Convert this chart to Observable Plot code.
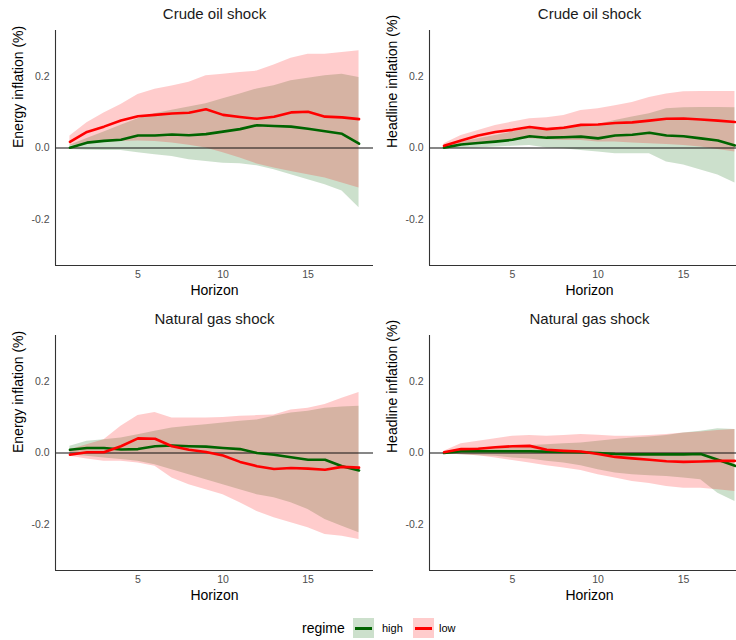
<!DOCTYPE html>
<html>
<head>
<meta charset="utf-8">
<script src="https://cdn.jsdelivr.net/npm/d3@7"></script>
<script src="https://cdn.jsdelivr.net/npm/@observablehq/plot@0.6"></script>
<style>
  body { margin: 0; background: #fff; font-family: "Liberation Sans", Arial, sans-serif; }
  #wrap { position: relative; width: 736px; height: 640px; overflow: hidden; }
  .panel { position: absolute; }
  .lg { position: absolute; line-height: 1; color: #000; }
  .sw { position: absolute; width: 21px; height: 20px; }
  .sw i { position: absolute; left: 2px; right: 2px; top: 9px; height: 3px; }
</style>
</head>
<body>
<div id="wrap"></div>
<script>
// ---- data ----
const horizon = [1,2,3,4,5,6,7,8,9,10,11,12,13,14,15,16,17,18];
const regimes = ["high", "low"];
const regimeColors = ["darkgreen", "red"];
const xTicks = [5, 10, 15];
const yTicks = [-0.2, 0.0, 0.2];
const xDomain = [0.15, 18.85];
const yDomain = [-0.33, 0.33];

// Crude oil shock -> Energy inflation
const oilEnergyHighMean = [0.001,0.015,0.020,0.023,0.035,0.035,0.038,0.036,0.039,0.046,0.053,0.064,0.062,0.060,0.054,0.047,0.040,0.012];
const oilEnergyHighLo   = [-0.004,-0.006,-0.007,-0.007,-0.013,-0.019,-0.024,-0.033,-0.038,-0.043,-0.044,-0.050,-0.061,-0.075,-0.089,-0.103,-0.121,-0.168];
const oilEnergyHighHi   = [0.008,0.027,0.045,0.064,0.082,0.096,0.106,0.115,0.124,0.138,0.152,0.166,0.175,0.189,0.196,0.203,0.207,0.198];
const oilEnergyLowMean  = [0.017,0.045,0.060,0.077,0.089,0.093,0.097,0.099,0.109,0.093,0.087,0.082,0.088,0.100,0.102,0.088,0.086,0.081];
const oilEnergyLowLo    = [0.006,0.012,0.016,0.018,0.020,0.018,0.014,0.008,0.000,-0.013,-0.028,-0.045,-0.056,-0.066,-0.075,-0.084,-0.098,-0.112];
const oilEnergyLowHi    = [0.034,0.071,0.098,0.122,0.150,0.165,0.174,0.185,0.203,0.207,0.212,0.216,0.233,0.252,0.263,0.263,0.268,0.273];

// Crude oil shock -> Headline inflation
const oilHeadHighMean = [0.001,0.010,0.014,0.018,0.023,0.033,0.029,0.030,0.032,0.027,0.035,0.037,0.043,0.035,0.033,0.027,0.021,0.007];
const oilHeadHighLo   = [-0.002,-0.001,0.000,0.003,0.005,0.007,0.000,-0.002,-0.007,-0.011,-0.016,-0.016,-0.016,-0.039,-0.048,-0.062,-0.076,-0.098];
const oilHeadHighHi   = [0.003,0.017,0.026,0.035,0.045,0.054,0.054,0.059,0.063,0.066,0.077,0.087,0.096,0.110,0.113,0.114,0.114,0.113];
const oilHeadLowMean  = [0.006,0.021,0.035,0.045,0.051,0.059,0.053,0.057,0.065,0.066,0.070,0.072,0.077,0.082,0.083,0.080,0.077,0.073];
const oilHeadLowLo    = [0.000,0.007,0.014,0.017,0.021,0.026,0.023,0.021,0.021,0.017,0.017,0.014,0.012,0.010,0.007,0.003,-0.004,-0.011];
const oilHeadLowHi    = [0.012,0.035,0.049,0.063,0.073,0.082,0.085,0.091,0.105,0.110,0.119,0.128,0.142,0.152,0.158,0.159,0.159,0.159];

// Natural gas shock -> Energy inflation
const gasEnergyHighMean = [0.009,0.014,0.014,0.010,0.011,0.019,0.021,0.019,0.018,0.014,0.011,0.000,-0.005,-0.012,-0.019,-0.019,-0.037,-0.049];
const gasEnergyHighLo   = [-0.005,-0.009,-0.014,-0.018,-0.023,-0.033,-0.047,-0.061,-0.075,-0.089,-0.103,-0.117,-0.126,-0.140,-0.159,-0.187,-0.206,-0.224];
const gasEnergyHighHi   = [0.019,0.033,0.037,0.042,0.051,0.061,0.070,0.075,0.079,0.084,0.089,0.093,0.103,0.112,0.117,0.126,0.129,0.131];
const gasEnergyLowMean  = [-0.005,0.002,0.002,0.019,0.041,0.040,0.019,0.009,0.003,-0.007,-0.025,-0.037,-0.045,-0.042,-0.044,-0.047,-0.039,-0.041];
const gasEnergyLowLo    = [-0.009,-0.017,-0.023,-0.023,-0.028,-0.037,-0.070,-0.089,-0.103,-0.117,-0.140,-0.164,-0.182,-0.196,-0.210,-0.229,-0.234,-0.243];
const gasEnergyLowHi    = [0.009,0.023,0.037,0.075,0.105,0.114,0.098,0.098,0.098,0.100,0.103,0.105,0.107,0.121,0.126,0.136,0.154,0.170];

// Natural gas shock -> Headline inflation
const gasHeadHighMean = [0.000,0.005,0.005,0.005,0.005,0.005,0.004,0.003,0.002,0.000,-0.003,-0.004,-0.004,-0.004,-0.004,-0.003,-0.019,-0.036];
const gasHeadHighLo   = [-0.002,-0.005,-0.008,-0.009,-0.014,-0.017,-0.023,-0.028,-0.036,-0.047,-0.056,-0.061,-0.064,-0.066,-0.070,-0.075,-0.113,-0.136];
const gasHeadHighHi   = [0.002,0.011,0.014,0.017,0.019,0.021,0.023,0.026,0.028,0.033,0.038,0.042,0.045,0.049,0.056,0.061,0.068,0.066];
const gasHeadLowMean  = [0.002,0.011,0.012,0.016,0.019,0.020,0.009,0.006,0.004,-0.003,-0.011,-0.015,-0.019,-0.023,-0.025,-0.024,-0.022,-0.022];
const gasHeadLowLo    = [-0.002,-0.005,-0.008,-0.014,-0.021,-0.028,-0.036,-0.042,-0.049,-0.061,-0.070,-0.080,-0.086,-0.094,-0.099,-0.099,-0.103,-0.108];
const gasHeadLowHi    = [0.005,0.026,0.033,0.040,0.047,0.049,0.047,0.049,0.052,0.050,0.047,0.047,0.049,0.052,0.056,0.059,0.063,0.066];

const panelTitles = ["Crude oil shock", "Crude oil shock", "Natural gas shock", "Natural gas shock"];
const yLabels = ["Energy inflation (%)", "Headline inflation (%)", "Energy inflation (%)", "Headline inflation (%)"];
const xLabel = "Horizon";
const legendTitle = "regime";

// ---- build ----
function rowsOf(series) {
  const out = [];
  regimes.forEach((r, i) => {
    const [m, lo, hi] = series[i];
    horizon.forEach((h, j) => out.push({h, regime: r, mean: m[j], lo: lo[j], hi: hi[j]}));
  });
  return out;
}

const panels = [
  rowsOf([[oilEnergyHighMean, oilEnergyHighLo, oilEnergyHighHi], [oilEnergyLowMean, oilEnergyLowLo, oilEnergyLowHi]]),
  rowsOf([[oilHeadHighMean, oilHeadHighLo, oilHeadHighHi], [oilHeadLowMean, oilHeadLowLo, oilHeadLowHi]]),
  rowsOf([[gasEnergyHighMean, gasEnergyHighLo, gasEnergyHighHi], [gasEnergyLowMean, gasEnergyLowLo, gasEnergyLowHi]]),
  rowsOf([[gasHeadHighMean, gasHeadHighLo, gasHeadHighHi], [gasHeadLowMean, gasHeadLowLo, gasHeadLowHi]])
];

const layout = [
  {left: 0, top: 0, width: 373},
  {left: 374, top: 0, width: 375},
  {left: 0, top: 305, width: 373},
  {left: 374, top: 305, width: 375}
];

const font = "'Liberation Sans', Arial, sans-serif";
const wrap = document.getElementById("wrap");

panels.forEach((rows, i) => {
  const L = layout[i];
  const chart = Plot.plot({
    width: L.width,
    height: 300,
    marginLeft: 55,
    marginRight: 0,
    marginTop: 30,
    marginBottom: 35,
    style: {fontFamily: font, background: "transparent", overflow: "visible"},
    x: {domain: xDomain},
    y: {domain: yDomain},
    color: {domain: regimes, range: regimeColors},
    marks: [
      Plot.areaY(rows, {x: "h", y1: "lo", y2: "hi", z: "regime", fill: "regime", fillOpacity: 0.2}),
      Plot.ruleY([0], {stroke: "#111", strokeWidth: 1.1}),
      Plot.lineY(rows, {x: "h", y: "mean", z: "regime", stroke: "regime", strokeWidth: 2.6}),
      Plot.ruleX([xDomain[0]], {stroke: "#333", strokeWidth: 1.1}),
      Plot.ruleY([yDomain[0]], {stroke: "#333", strokeWidth: 1.1}),
      Plot.axisX({ticks: xTicks, tickSize: 0, tickPadding: 5, fontSize: 10.5, color: "#4d4d4d", label: null}),
      Plot.axisY({ticks: yTicks, tickSize: 0, tickPadding: 6, fontSize: 10.5, color: "#4d4d4d", tickFormat: d => d.toFixed(1), label: null}),
      Plot.text([panelTitles[i]], {frameAnchor: "top", dy: -16, fontSize: 15, fill: "#1a1a1a", lineAnchor: "middle"}),
      Plot.text([xLabel], {frameAnchor: "bottom", dy: 25, fontSize: 14, fill: "#000", lineAnchor: "middle"}),
      Plot.text([yLabels[i]], {frameAnchor: "left", dx: -37, rotate: -90, fontSize: 14, fill: "#000", lineAnchor: "middle"})
    ]
  });
  chart.classList.add("panel");
  chart.style.left = L.left + "px";
  chart.style.top = L.top + "px";
  wrap.appendChild(chart);
});

// ---- legend ----
function addText(txt, left, size) {
  const d = document.createElement("div");
  d.className = "lg";
  d.textContent = txt;
  d.style.left = left + "px";
  d.style.fontSize = size + "px";
  d.style.top = (629 - size * 0.55) + "px";
  wrap.appendChild(d);
}
function addSwatch(color, left) {
  const s = document.createElement("div");
  s.className = "sw";
  s.style.left = left + "px";
  s.style.top = "618px";
  const c = d3.color(color);
  s.style.background = `rgba(${c.r},${c.g},${c.b},0.2)`;
  const bar = document.createElement("i");
  bar.style.background = color;
  s.appendChild(bar);
  wrap.appendChild(s);
}
addText(legendTitle, 302, 14);
addSwatch(regimeColors[0], 353);
addText(regimes[0], 382, 11);
addSwatch(regimeColors[1], 413);
addText(regimes[1], 439, 11);
</script>
</body>
</html>
